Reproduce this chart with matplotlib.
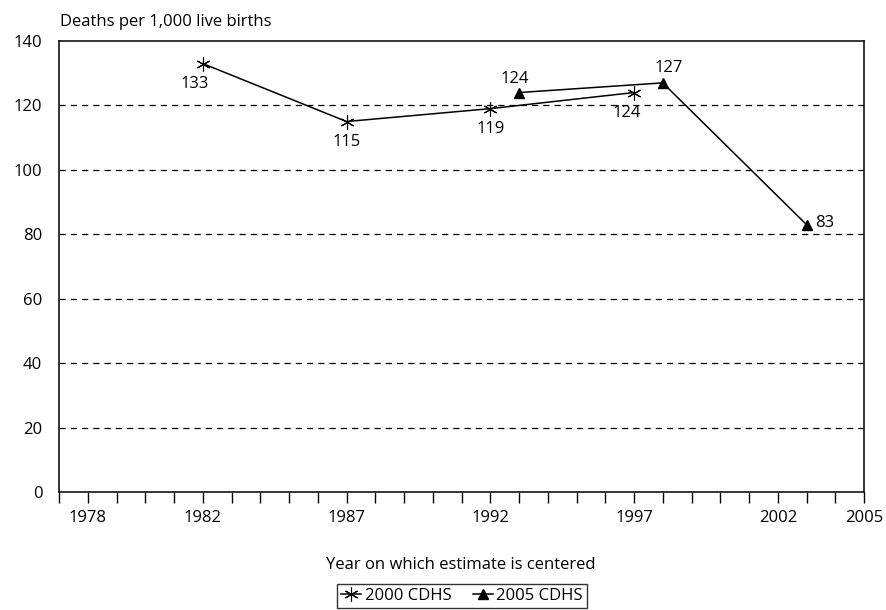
import matplotlib.pyplot as plt
from matplotlib.ticker import MultipleLocator, FixedLocator

# data
years_2000 = [1982, 1987, 1992, 1997]
rates_2000 = [133, 115, 119, 124]
years_2005 = [1993, 1998, 2003]
rates_2005 = [124, 127, 83]
xtick_labels = [1978, 1982, 1987, 1992, 1997, 2002, 2005]

plt.rcParams['font.family'] = ['Open Sans', 'DejaVu Sans']
plt.rcParams['font.size'] = 12

fig = plt.figure(figsize=(8.87, 6.10), dpi=100)
ax = fig.add_axes([59 / 887, 1 - 492 / 610, (864 - 59) / 887, (492 - 41) / 610])

ax.plot(years_2000, rates_2000, color='black', lw=1.1, marker=(6, 2, 0),
        markersize=10, markeredgewidth=0.8, label='2000 CDHS')
ax.plot(years_2005, rates_2005, color='black', lw=1.1, marker='^',
        markersize=7, label='2005 CDHS')

# point labels (offsets in points)
offs_2000 = [(-6, -15), (0, -15), (0, -15), (-5, -15)]
for x, y, (dx, dy) in zip(years_2000, rates_2000, offs_2000):
    ax.annotate(str(y), (x, y), xytext=(dx, dy), textcoords='offset points',
                ha='center', va='center')
offs_2005 = [(-3, 10), (4, 11), (13, 1)]
for x, y, (dx, dy) in zip(years_2005, rates_2005, offs_2005):
    ax.annotate(str(y), (x, y), xytext=(dx, dy), textcoords='offset points',
                ha='center', va='center')

ax.set_xlim(1977, 2005)
ax.set_ylim(0, 140)
ax.xaxis.set_major_locator(FixedLocator(xtick_labels))
ax.xaxis.set_minor_locator(MultipleLocator(1))
ax.tick_params(axis='x', which='both', direction='out', length=8, width=1,
               pad=5)
ax.tick_params(axis='y', length=0, pad=12)
ax.yaxis.set_major_locator(MultipleLocator(20))

for y in range(20, 140, 20):
    ax.axhline(y, color='black', lw=0.9, ls=(0, (5, 4)), zorder=0)

for s in ax.spines.values():
    s.set_linewidth(1.1)

fig.text(60 / 887, 1 - 22 / 610, 'Deaths per 1,000 live births',
         ha='left', va='center')
fig.text(461 / 887, 1 - 565 / 610, 'Year on which estimate is centered',
         ha='center', va='center')

leg = fig.legend(loc='center', bbox_to_anchor=(462 / 887, 1 - 596 / 610),
                 ncol=2, frameon=True, fancybox=False, edgecolor='black',
                 handlelength=1.2, handletextpad=0.2, columnspacing=1.3,
                 borderpad=0.25, borderaxespad=0)
leg.get_frame().set_linewidth(1.0)

fig.savefig('out.png', dpi=100)
